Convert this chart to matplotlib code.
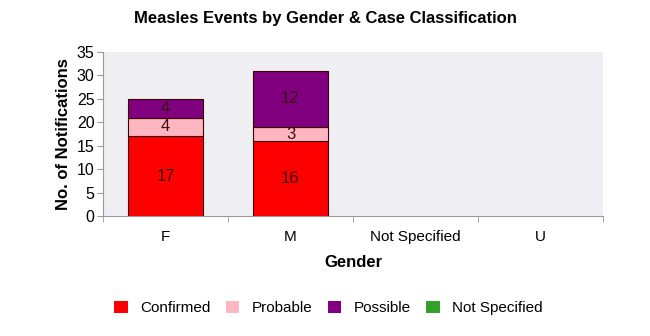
import numpy as np
import matplotlib.pyplot as plt
from matplotlib.patches import Patch

plt.rcParams["font.family"] = ["Liberation Sans", "DejaVu Sans"]

# Data
genders = ["F", "M", "Not Specified", "U"]
classes = ["Confirmed", "Probable", "Possible", "Not Specified"]
confirmed = [17, 16, 0, 0]
probable = [4, 3, 0, 0]
possible = [4, 12, 0, 0]
not_specified = [0, 0, 0, 0]
colors = ["#ff0000", "#ffb6c1", "#800080", "#33a02c"]

series = [confirmed, probable, possible, not_specified]

fig = plt.figure(figsize=(6.5, 3.36), dpi=100)
ax = fig.add_axes([103 / 650, 1 - 216 / 336, 500 / 650, 164 / 336])
ax.set_facecolor("#efeff3")

x = np.arange(len(genders))
bottom = np.zeros(len(genders))
for vals, col in zip(series, colors):
    vals = np.array(vals, dtype=float)
    mask = vals > 0
    ax.bar(x[mask], vals[mask], width=0.6, bottom=bottom[mask], color=col,
           edgecolor="#3a0000", linewidth=0.8, zorder=3)
    for xi, v, b in zip(x[mask], vals[mask], bottom[mask]):
        ax.text(xi, b + v / 2, f"{int(v)}", ha="center", va="center",
                fontsize=12, color="#3a1010", zorder=4)
    bottom += vals

ax.set_xlim(-0.5, 3.5)
ax.set_ylim(0, 35)
ax.set_yticks(range(0, 36, 5))
ax.set_xticks(x)
ax.set_xticklabels(genders, fontsize=11)
ax.set_xticks(np.arange(-0.5, 3.6, 1), minor=True)
ax.tick_params(axis="x", which="major", length=0, pad=10)
ax.tick_params(axis="x", which="minor", length=4, color="#999999")
ax.tick_params(axis="y", length=4, color="#999999", labelsize=11.5, pad=2)
for side in ["top", "right"]:
    ax.spines[side].set_visible(False)
ax.spines["left"].set_color("#999999")
ax.spines["bottom"].set_color("#999999")

ax.set_xlabel("Gender", fontsize=12, fontweight="bold", labelpad=8)
ax.set_ylabel("No. of Notifications", fontsize=12, fontweight="bold", labelpad=4)
fig.text(0.5, 1 - 18 / 336, "Measles Events by Gender & Case Classification",
         ha="center", va="center", fontsize=12, fontweight="bold")

handles = [Patch(facecolor=c, edgecolor="none") for c in colors]
fig.legend(handles, classes, loc="center", bbox_to_anchor=(0.505, 1 - 308 / 336),
           ncol=4, frameon=False, fontsize=11, handlelength=0.9, handleheight=0.9,
           columnspacing=1.0, handletextpad=0.8)

fig.savefig("out.png", dpi=100)
